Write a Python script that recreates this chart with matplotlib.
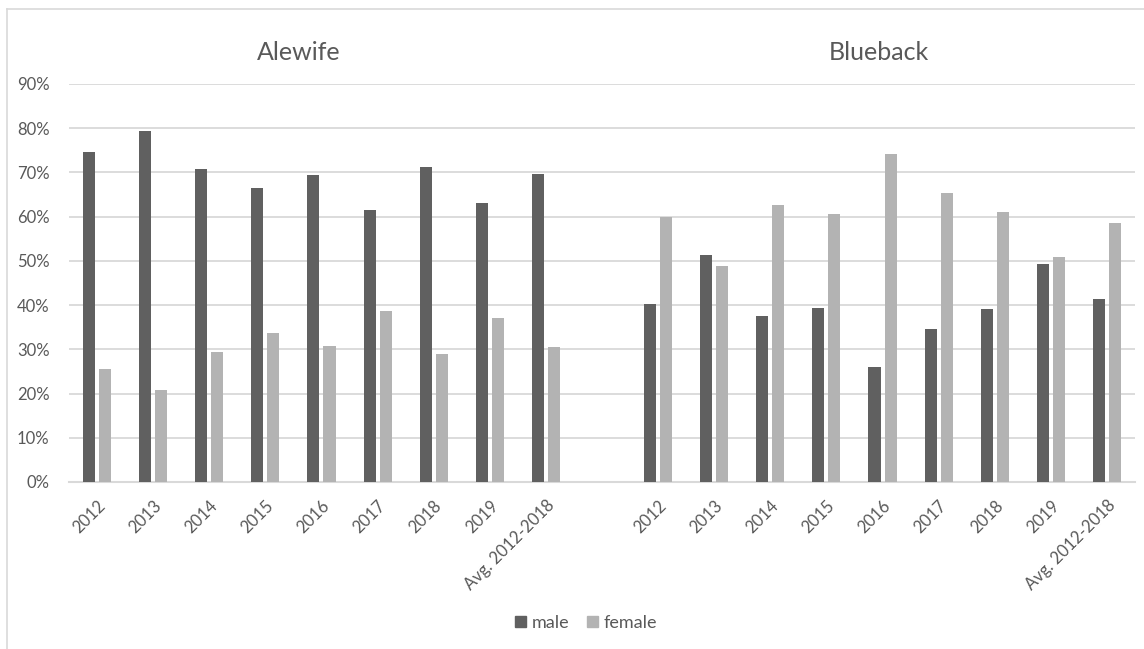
import matplotlib
matplotlib.use("Agg")
import matplotlib.pyplot as plt
from matplotlib.lines import Line2D
from matplotlib.patches import Patch
import numpy as np

plt.rcParams["font.family"] = ["Lato", "DejaVu Sans"]

# ── data ──────────────────────────────────────────────────────────────
years = ["2012", "2013", "2014", "2015", "2016", "2017", "2018", "2019", "Avg. 2012-2018"]
species = ["Alewife", "Blueback"]

alewife_male   = [74.7, 79.4, 70.8, 66.4, 69.4, 61.5, 71.2, 63.0, 69.6]
alewife_female = [25.5, 20.8, 29.4, 33.6, 30.7, 38.7, 28.9, 37.1, 30.5]
blueback_male   = [40.2, 51.4, 37.5, 39.3, 26.1, 34.7, 39.1, 49.4, 41.3]
blueback_female = [60.0, 48.8, 62.6, 60.6, 74.1, 65.3, 61.0, 50.8, 58.6]

MALE_C = "#606060"
FEMALE_C = "#b3b3b3"
GRID_C = "#d9d9d9"
TEXT_C = "#595959"

# one blank category between the two species
labels = years + [""] + years
male = np.array(alewife_male + [np.nan] + blueback_male) / 100
female = np.array(alewife_female + [np.nan] + blueback_female) / 100
x = np.arange(len(labels))

W, H = 1144, 649
fig = plt.figure(figsize=(W / 100, H / 100), dpi=100)
ax = fig.add_axes([69 / W, 1 - 482 / H, (1135 - 69) / W, (482 - 84) / H])

bw = 0.215
ax.bar(x - 0.143, male, bw, color=MALE_C, zorder=3)
ax.bar(x + 0.143, female, bw, color=FEMALE_C, zorder=3)

ax.set_xlim(-0.5, len(labels) - 0.5)
ax.set_ylim(0, 0.9)
ax.set_yticks(np.arange(0, 0.91, 0.1))
ax.set_yticklabels([f"{int(round(v * 100))}%" for v in np.arange(0, 0.91, 0.1)])
ax.yaxis.grid(True, color=GRID_C, linewidth=1.3, zorder=0)
ax.tick_params(axis="y", length=0, pad=14, labelsize=12, labelcolor=TEXT_C)

ax.set_xticks(x)
ax.set_xticklabels(labels, rotation=45, ha="right", va="top",
                   rotation_mode="anchor", fontsize=12, color=TEXT_C)
ax.tick_params(axis="x", length=0, pad=11)

for s in ["top", "right", "left"]:
    ax.spines[s].set_visible(False)
ax.spines["bottom"].set_color(GRID_C)
ax.spines["bottom"].set_linewidth(1.5)

# species headings
fig.text(299 / W, 1 - 52 / H, species[0], ha="center", va="center",
         fontsize=18, color=TEXT_C)
fig.text(879 / W, 1 - 52 / H, species[1], ha="center", va="center",
         fontsize=18, color=TEXT_C)

# chart frame (left and top edges visible)
fig.add_artist(Line2D([7 / W, 7 / W], [0, 1 - 9 / H], color=GRID_C, lw=1.2))
fig.add_artist(Line2D([7 / W, 1], [1 - 9 / H, 1 - 9 / H], color=GRID_C, lw=1.2))

handles = [Patch(color=MALE_C, label="male"), Patch(color=FEMALE_C, label="female")]
leg = fig.legend(handles=handles, loc="center", bbox_to_anchor=(586 / W, 1 - 623 / H),
                 ncol=2, frameon=False, fontsize=13, handlelength=0.6,
                 handleheight=0.6, handletextpad=0.3, columnspacing=1.0)
for t in leg.get_texts():
    t.set_color(TEXT_C)

fig.savefig("out.png", dpi=100)
